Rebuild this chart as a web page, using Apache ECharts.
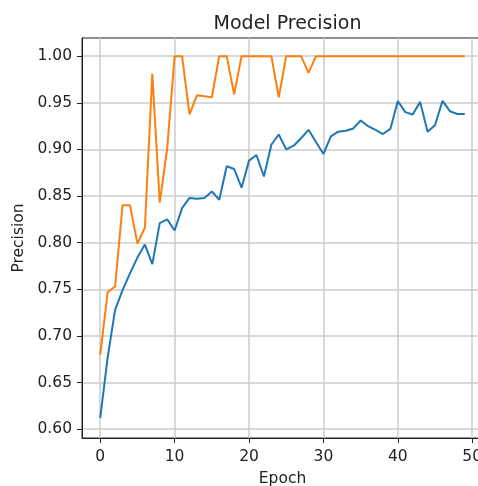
<!DOCTYPE html>
<html>
<head>
<meta charset="utf-8">
<script src="https://cdn.jsdelivr.net/npm/echarts@6/dist/echarts.min.js"></script>
<style>html,body{margin:0;padding:0;background:#fff;}#c{width:478px;height:486px;}</style>
</head>
<body>
<div id="c"></div>
<script>
var epochs = [0,1,2,3,4,5,6,7,8,9,10,11,12,13,14,15,16,17,18,19,20,21,22,23,24,25,26,27,28,29,30,31,32,33,34,35,36,37,38,39,40,41,42,43,44,45,46,47,48,49];
var precisionBlue = [0.612,0.677,0.728,0.749,0.767,0.784,0.798,0.777,0.821,0.825,0.813,0.837,0.848,0.847,0.848,0.855,0.846,0.882,0.879,0.859,0.888,0.894,0.871,0.905,0.916,0.900,0.904,0.912,0.921,0.908,0.895,0.914,0.919,0.920,0.9225,0.931,0.925,0.921,0.9165,0.922,0.952,0.940,0.9375,0.951,0.919,0.926,0.952,0.941,0.938,0.938];
var precisionOrange = [0.680,0.747,0.753,0.840,0.840,0.799,0.816,0.981,0.843,0.901,1.0,1.0,0.9375,0.958,0.957,0.956,1.0,1.0,0.959,1.0,1.0,1.0,1.0,1.0,0.956,1.0,1.0,1.0,0.982,1.0,1.0,1.0,1.0,1.0,1.0,1.0,1.0,1.0,1.0,1.0,1.0,1.0,1.0,1.0,1.0,1.0,1.0,1.0,1.0,1.0];
var xTicks = [0,10,20,30,40,50];
var yTicks = [0.60,0.65,0.70,0.75,0.80,0.85,0.90,0.95,1.00];

function pairs(vals){ return epochs.map(function(e,i){ return [e, vals[i]]; }); }

var font = 'DejaVu Sans';
var chart = echarts.init(document.getElementById('c'), null, {renderer:'canvas'});
chart.setOption({
  backgroundColor: '#ffffff',
  animation: false,
  title: {
    text: 'Model Precision',
    left: 282.5, top: 10, textAlign: 'center',
    textStyle: {fontFamily: font, fontSize: 19, fontWeight: 'normal', color: '#222'}
  },
  grid: {left: 82, top: 38, width: 401, height: 400, show: true, borderColor: '#222', borderWidth: 1,
    containLabel: false, outerBoundsMode: 'none'},
  xAxis: {
    type: 'value', min: -2.45, max: 51.45,
    name: 'Epoch', nameLocation: 'middle', nameGap: 33,
    nameTextStyle: {fontFamily: font, fontSize: 15.5, color: '#222'},
    axisLine: {show: true, onZero: false, lineStyle: {color: '#222', width: 1}},
    axisTick: {show: true, length: 5, lineStyle: {color: '#222'}, customValues: xTicks},
    axisLabel: {customValues: xTicks, margin: 11, fontFamily: font, fontSize: 15.5, color: '#222'},
    splitLine: {show: true, lineStyle: {color: '#cccccc', width: 1.5}}
  },
  yAxis: {
    type: 'value', min: 0.5905, max: 1.0195,
    name: 'Precision', nameLocation: 'middle', nameGap: 54,
    nameTextStyle: {fontFamily: font, fontSize: 15.5, color: '#222'},
    axisLine: {show: true, onZero: false, lineStyle: {color: '#222', width: 1}},
    axisTick: {show: true, length: 5, lineStyle: {color: '#222'}, customValues: yTicks},
    axisLabel: {customValues: yTicks, margin: 10, fontFamily: font, fontSize: 15.5, color: '#222',
      formatter: function(v){ return v.toFixed(2); }},
    splitLine: {show: true, lineStyle: {color: '#cccccc', width: 1.5}}
  },
  series: [
    {type: 'line', data: pairs(precisionBlue), showSymbol: false, symbol: 'none',
     lineStyle: {color: '#1f77b4', width: 2}, itemStyle: {color: '#1f77b4'}},
    {type: 'line', data: pairs(precisionOrange), showSymbol: false, symbol: 'none',
     lineStyle: {color: '#ff7f0e', width: 2}, itemStyle: {color: '#ff7f0e'}}
  ]
});
</script>
</body>
</html>
